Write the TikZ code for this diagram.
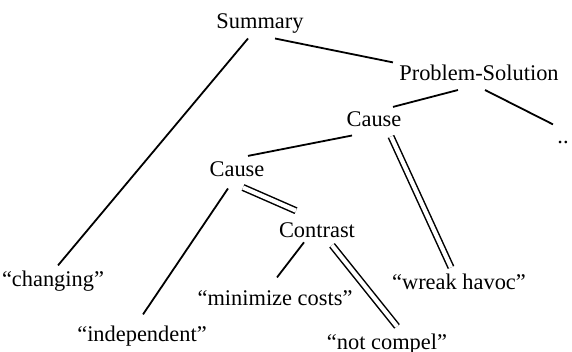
\documentclass[tikz,border=0pt]{standalone}
\usepackage{fontspec}
\setmainfont{Liberation Serif}
\usetikzlibrary{calc}

\begin{document}
\begin{tikzpicture}[x=0.5pt, y=-0.5pt]
    \tikzstyle{span_style} = [font=\fontsize{11.2}{13}\selectfont, inner sep=2.5pt, text height=7.6pt, text depth=2.3pt, anchor=base]
    \tikzstyle{satellite_style} = [line width=0.9pt, black]
    \tikzstyle{nucleus_style} = [line width=0.75pt, black, double, double distance=2.1pt]

    \useasboundingbox (0,0) rectangle (572,352);

    % relations
    \node[span_style] (summary) at (260,28.5) {Summary};
    \node[span_style] (probsol) at (479,81) {Problem-Solution};
    \node[span_style] (cause_a) at (374,126.5) {Cause};
    \node[span_style] (more) at (563,144) {..};
    \node[span_style] (cause_b) at (237,176.5) {Cause};
    \node[span_style] (contrast) at (317,237.3) {Contrast};

    % leaves
    \node[span_style] (changing) at (53,286) {``changing''};
    \node[span_style] (minimize) at (275,305) {``minimize costs''};
    \node[span_style] (havoc) at (459,289) {``wreak havoc''};
    \node[span_style] (independent) at (142,341) {``independent''};
    \node[span_style] (compel) at (387,349) {``not compel''};

    \draw[satellite_style] ($(summary.south)+(-12,0)$) -- ($(changing.north)+(5,0)$);
    \draw[satellite_style] ($(summary.south)+(15,0)$) -- ($(probsol.north west)+(-1,2)$);
    \draw[satellite_style] ($(probsol.south)+(-21,-1)$) -- ($(cause_a.north)+(19,1)$);
    \draw[satellite_style] ($(probsol.south)+(6,-1)$) -- ($(more.north)+(-10,1)$);
    \draw[satellite_style] ($(cause_a.south)+(-22,-1)$) -- ($(cause_b.north)+(11,0)$);
    \draw[nucleus_style] ($(cause_a.south)+(17,0)$) -- ($(havoc.north)+(-8,-1)$);
    \draw[satellite_style] ($(cause_b.south)+(-9,2)$) -- ($(independent.north)+(1,-6)$);
    \draw[nucleus_style] ($(cause_b.south)+(6,1)$) -- ($(contrast.north)+(-21,-6)$);
    \draw[satellite_style] ($(contrast.south)+(-13,-5)$) -- ($(minimize.north)+(2,-7)$);
    \draw[nucleus_style] ($(contrast.south)+(15,-2)$) -- ($(compel.north)+(10,-2)$);
\end{tikzpicture}
\end{document}
